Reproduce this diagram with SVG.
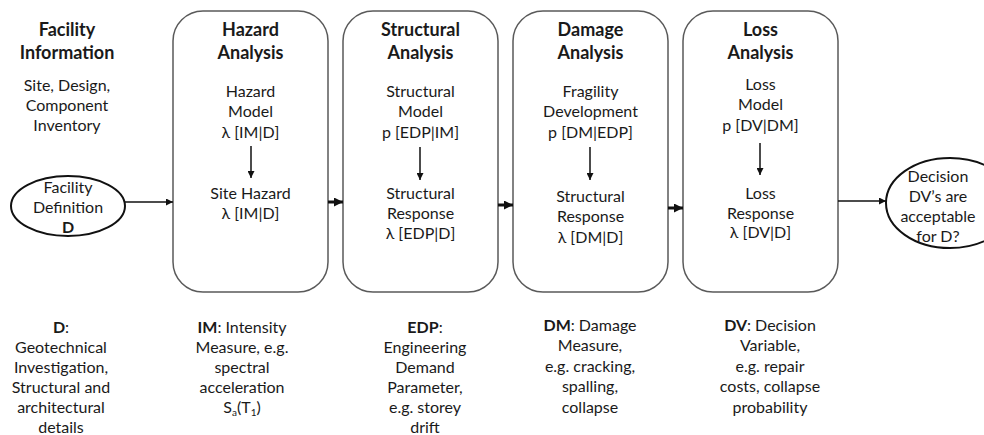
<svg xmlns="http://www.w3.org/2000/svg" width="984" height="435" viewBox="0 0 984 435">
<defs>
<style>
text{font-family:Lato,"Open Sans","Liberation Sans",sans-serif;fill:#1a1a1a;text-anchor:middle}
.t{font-size:18px;font-weight:bold}
.s{font-size:16px}
.b{font-weight:bold}
.box{fill:#fff;stroke:#5a5a5a;stroke-width:1.5}
.ell{fill:#fff;stroke:#111;stroke-width:2}
.thin{stroke:#111;stroke-width:1.5;fill:none}
.thick{stroke:#111;stroke-width:3;fill:none}
</style>
<marker id="ah" viewBox="0 0 10 10" refX="10" refY="5" markerWidth="7" markerHeight="7" markerUnits="userSpaceOnUse" orient="auto"><path d="M0,0L10,5L0,10z" fill="#111"/></marker>
<marker id="ahb" viewBox="0 0 10 10" refX="10" refY="5" markerWidth="9" markerHeight="9" markerUnits="userSpaceOnUse" orient="auto"><path d="M0,0L10,5L0,10z" fill="#111"/></marker>
</defs>

<g id="facility-info">
<text class="t" x="67" y="36">Facility</text>
<text class="t" x="67" y="59">Information</text>
<text class="s" x="67" y="91">Site, Design,</text>
<text class="s" x="67" y="111">Component</text>
<text class="s" x="67" y="131">Inventory</text>
</g>

<g id="facility-definition">
<ellipse class="ell" cx="68" cy="206" rx="57" ry="30"/>
<text class="s" x="68" y="193">Facility</text>
<text class="s" x="68" y="213">Definition</text>
<text class="s b" x="68" y="233">D</text>
</g>

<g id="hazard">
<rect class="box" x="173" y="11" width="155" height="281" rx="30" ry="30"/>
<text class="t" x="250.5" y="36">Hazard</text>
<text class="t" x="250.5" y="59">Analysis</text>
<text class="s" x="250.5" y="97">Hazard</text>
<text class="s" x="250.5" y="117">Model</text>
<text class="s" x="250.5" y="138">λ [IM|D]</text>
<line class="thin" x1="251" y1="146" x2="251" y2="178" marker-end="url(#ah)"/>
<text class="s" x="250.5" y="199">Site Hazard</text>
<text class="s" x="250.5" y="219">λ [IM|D]</text>
</g>

<g id="structural">
<rect class="box" x="343" y="11" width="155" height="281" rx="30" ry="30"/>
<text class="t" x="420.5" y="36">Structural</text>
<text class="t" x="420.5" y="59">Analysis</text>
<text class="s" x="420.5" y="97">Structural</text>
<text class="s" x="420.5" y="117">Model</text>
<text class="s" x="420.5" y="138">p [EDP|IM]</text>
<line class="thin" x1="420" y1="147" x2="420" y2="180" marker-end="url(#ah)"/>
<text class="s" x="420.5" y="199">Structural</text>
<text class="s" x="420.5" y="219">Response</text>
<text class="s" x="420.5" y="239">λ [EDP|D]</text>
</g>

<g id="damage">
<rect class="box" x="513" y="11" width="155" height="281" rx="30" ry="30"/>
<text class="t" x="590.5" y="36">Damage</text>
<text class="t" x="590.5" y="59">Analysis</text>
<text class="s" x="590.5" y="97">Fragility</text>
<text class="s" x="590.5" y="117">Development</text>
<text class="s" x="590.5" y="138">p [DM|EDP]</text>
<line class="thin" x1="590" y1="147" x2="590" y2="180" marker-end="url(#ah)"/>
<text class="s" x="590.5" y="202">Structural</text>
<text class="s" x="590.5" y="222">Response</text>
<text class="s" x="590.5" y="243">λ [DM|D]</text>
</g>

<g id="loss">
<rect class="box" x="683" y="11" width="155" height="281" rx="30" ry="30"/>
<text class="t" x="760.5" y="36">Loss</text>
<text class="t" x="760.5" y="59">Analysis</text>
<text class="s" x="760.5" y="90">Loss</text>
<text class="s" x="760.5" y="110">Model</text>
<text class="s" x="760.5" y="131">p [DV|DM]</text>
<line class="thin" x1="760" y1="143" x2="760" y2="175" marker-end="url(#ah)"/>
<text class="s" x="760.5" y="199">Loss</text>
<text class="s" x="760.5" y="219">Response</text>
<text class="s" x="760.5" y="238">λ [DV|D]</text>
</g>

<g id="decision">
<ellipse class="ell" cx="950" cy="203" rx="64" ry="45"/>
<text class="s" x="938" y="182">Decision</text>
<text class="s" x="938" y="202">DV’s are</text>
<text class="s" x="938" y="222">acceptable</text>
<text class="s" x="938" y="242">for D?</text>
</g>

<g id="connectors">
<line class="thin" x1="125" y1="202" x2="173" y2="202" marker-end="url(#ah)"/>
<line class="thick" x1="328" y1="202" x2="343" y2="202" marker-end="url(#ahb)"/>
<line class="thick" x1="498" y1="205" x2="513" y2="205" marker-end="url(#ahb)"/>
<line class="thick" x1="668" y1="208" x2="683" y2="208" marker-end="url(#ahb)"/>
<line class="thin" x1="838" y1="201" x2="886" y2="201" marker-end="url(#ah)"/>
</g>

<g id="legend-d">
<text class="s" x="61" y="333"><tspan class="b">D</tspan>:</text>
<text class="s" x="61" y="353">Geotechnical</text>
<text class="s" x="61" y="373">Investigation,</text>
<text class="s" x="61" y="393">Structural and</text>
<text class="s" x="61" y="413">architectural</text>
<text class="s" x="61" y="433">details</text>
</g>
<g id="legend-im">
<text class="s" x="242" y="333"><tspan class="b">IM</tspan>: Intensity</text>
<text class="s" x="242" y="353">Measure, e.g.</text>
<text class="s" x="242" y="373">spectral</text>
<text class="s" x="242" y="393">acceleration</text>
<text class="s" x="242" y="413">S<tspan font-size="10" dy="3">a</tspan><tspan dy="-3">(T</tspan><tspan font-size="10" dy="3">1</tspan><tspan dy="-3">)</tspan></text>
</g>
<g id="legend-edp">
<text class="s" x="425" y="333"><tspan class="b">EDP</tspan>:</text>
<text class="s" x="425" y="353">Engineering</text>
<text class="s" x="425" y="373">Demand</text>
<text class="s" x="425" y="393">Parameter,</text>
<text class="s" x="425" y="413">e.g. storey</text>
<text class="s" x="425" y="433">drift</text>
</g>
<g id="legend-dm">
<text class="s" x="590" y="331"><tspan class="b">DM</tspan>: Damage</text>
<text class="s" x="590" y="351">Measure,</text>
<text class="s" x="590" y="372">e.g. cracking,</text>
<text class="s" x="590" y="392">spalling,</text>
<text class="s" x="590" y="413">collapse</text>
</g>
<g id="legend-dv">
<text class="s" x="770" y="331"><tspan class="b">DV</tspan>: Decision</text>
<text class="s" x="770" y="351">Variable,</text>
<text class="s" x="770" y="372">e.g. repair</text>
<text class="s" x="770" y="392">costs, collapse</text>
<text class="s" x="770" y="413">probability</text>
</g>
</svg>
